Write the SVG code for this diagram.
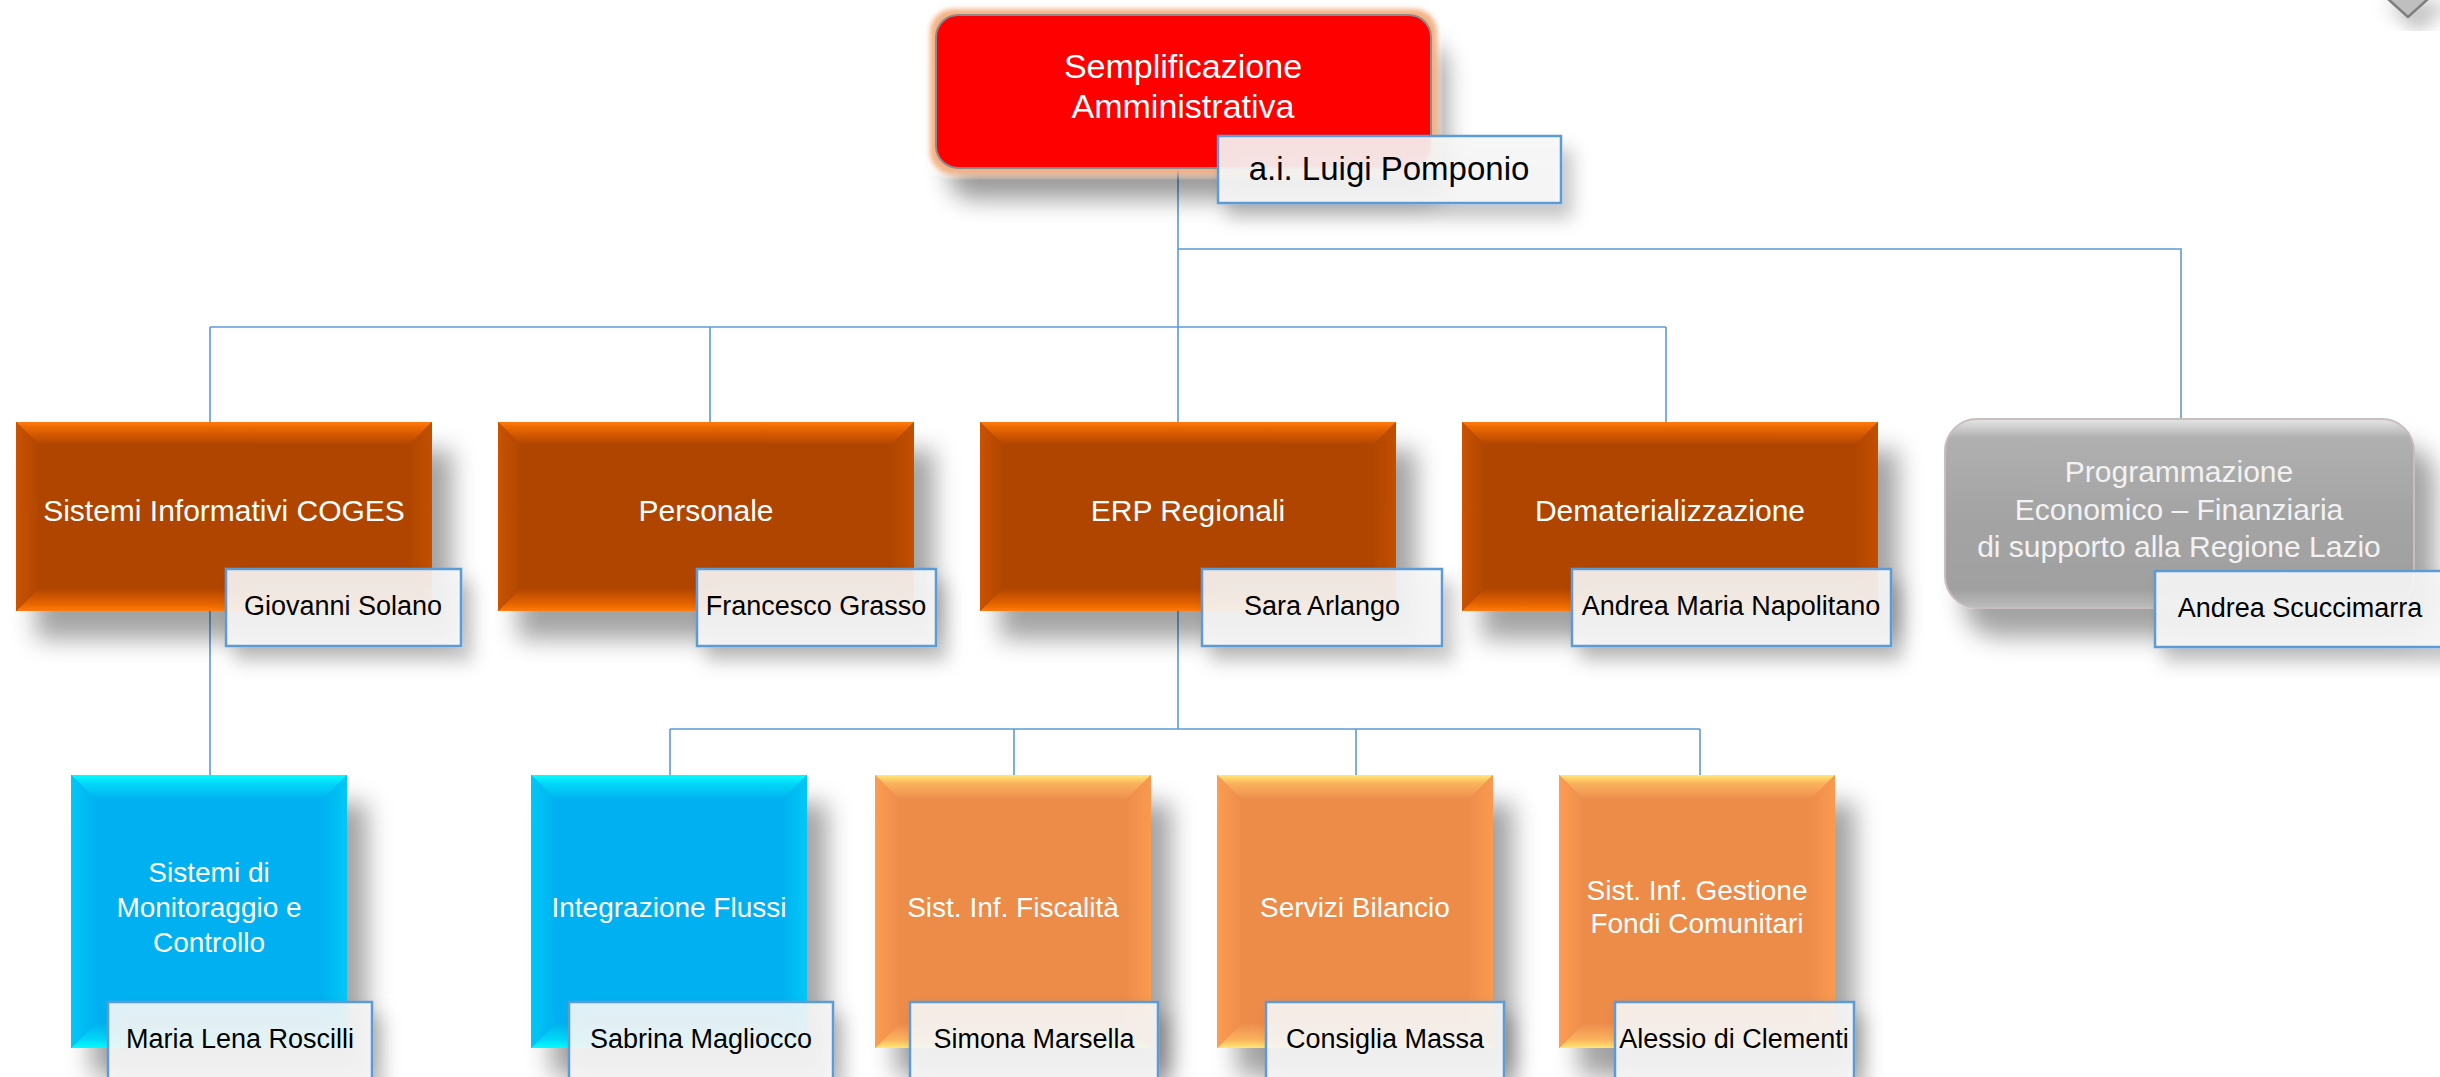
<svg xmlns="http://www.w3.org/2000/svg" width="2440" height="1077" viewBox="0 0 2440 1077">
<style>
.t{font-family:"Liberation Sans",Arial,sans-serif;fill:#FFFFFF;text-anchor:middle}
.t2{font-size:30px}
.t3{font-size:28px}
.n{font-family:"Liberation Sans",Arial,sans-serif;fill:#000000;text-anchor:middle;font-size:27px}
.nb{fill:#F7F7F7;fill-opacity:0.9;stroke:#5B9BD5;stroke-width:2.5}
.c{fill:none;stroke:#5B9BD5;stroke-width:1.6}
.dk{fill:#B04500}.cy{fill:#00B0F0}.lo{fill:#ED8B4A}
</style>
<defs>
<filter id="sh" x="-15%" y="-15%" width="145%" height="160%">
<feDropShadow dx="20" dy="28" stdDeviation="12" flood-color="#000" flood-opacity="0.36"/>
</filter>
<filter id="shs" x="-15%" y="-30%" width="140%" height="180%">
<feDropShadow dx="10" dy="14" stdDeviation="9" flood-color="#000" flood-opacity="0.25"/>
</filter>
<filter id="glow" x="-15%" y="-25%" width="140%" height="180%">
<feGaussianBlur in="SourceAlpha" stdDeviation="12" result="b"/>
<feOffset in="b" dx="14" dy="30" result="o"/>
<feComponentTransfer in="o" result="s"><feFuncA type="linear" slope="0.4"/></feComponentTransfer>
<feMorphology in="SourceAlpha" operator="dilate" radius="5" result="d"/>
<feGaussianBlur in="d" stdDeviation="2.5" result="db"/>
<feFlood flood-color="#F4B183"/>
<feComposite in2="db" operator="in" result="g"/>
<feMerge><feMergeNode in="s"/><feMergeNode in="g"/><feMergeNode in="SourceGraphic"/></feMerge>
</filter>
<linearGradient id="dkT" x1="0" y1="0" x2="0" y2="1"><stop offset="0" stop-color="#FF7A0A"/><stop offset="0.4" stop-color="#E06000"/><stop offset="1" stop-color="#B34700"/></linearGradient>
<linearGradient id="dkB" x1="0" y1="1" x2="0" y2="0"><stop offset="0" stop-color="#FF7A0A"/><stop offset="0.4" stop-color="#E06000"/><stop offset="1" stop-color="#B34700"/></linearGradient>
<linearGradient id="dkL" x1="0" y1="0" x2="1" y2="0"><stop offset="0" stop-color="#C95300"/><stop offset="1" stop-color="#B24600"/></linearGradient>
<linearGradient id="dkR" x1="1" y1="0" x2="0" y2="0"><stop offset="0" stop-color="#C25000"/><stop offset="1" stop-color="#B24600"/></linearGradient>
<linearGradient id="cyT" x1="0" y1="0" x2="0" y2="1"><stop offset="0" stop-color="#00FFFF"/><stop offset="0.35" stop-color="#00D8F8"/><stop offset="1" stop-color="#00B3F0"/></linearGradient>
<linearGradient id="cyB" x1="0" y1="1" x2="0" y2="0"><stop offset="0" stop-color="#00FFFF"/><stop offset="0.35" stop-color="#00D8F8"/><stop offset="1" stop-color="#00B3F0"/></linearGradient>
<linearGradient id="cyL" x1="0" y1="0" x2="1" y2="0"><stop offset="0" stop-color="#00C8F8"/><stop offset="1" stop-color="#00B2F0"/></linearGradient>
<linearGradient id="cyR" x1="1" y1="0" x2="0" y2="0"><stop offset="0" stop-color="#00C8F8"/><stop offset="1" stop-color="#00B2F0"/></linearGradient>
<linearGradient id="loT" x1="0" y1="0" x2="0" y2="1"><stop offset="0" stop-color="#FFE873"/><stop offset="0.35" stop-color="#FBB25E"/><stop offset="1" stop-color="#EE8E4D"/></linearGradient>
<linearGradient id="loB" x1="0" y1="1" x2="0" y2="0"><stop offset="0" stop-color="#FFE873"/><stop offset="0.35" stop-color="#FBB25E"/><stop offset="1" stop-color="#EE8E4D"/></linearGradient>
<linearGradient id="loL" x1="0" y1="0" x2="1" y2="0"><stop offset="0" stop-color="#FB9D52"/><stop offset="1" stop-color="#EE8D4C"/></linearGradient>
<linearGradient id="loR" x1="1" y1="0" x2="0" y2="0"><stop offset="0" stop-color="#F99A50"/><stop offset="1" stop-color="#EE8D4C"/></linearGradient>
<linearGradient id="gr" x1="0" y1="0" x2="0" y2="1"><stop offset="0" stop-color="#E6E6E6"/><stop offset="0.1" stop-color="#B0B0B0"/><stop offset="0.5" stop-color="#A4A4A4"/><stop offset="0.9" stop-color="#A0A0A0"/><stop offset="1" stop-color="#BDBDBD"/></linearGradient>
</defs>

<rect x="0" y="0" width="2440" height="1077" fill="#FFFFFF"/>

<g id="connectors">
<path class="c" d="M1178 167 V327"/>
<path class="c" d="M1178 249 H2181 V419"/>
<path class="c" d="M210 327 H1666"/>
<path class="c" d="M210 327 V422 M710 327 V422 M1178 327 V422 M1666 327 V422"/>
<path class="c" d="M210 611 V775"/>
<path class="c" d="M1178 611 V729 M670 729 H1700"/>
<path class="c" d="M670 729 V775 M1014 729 V775 M1356 729 V775 M1700 729 V775"/>
</g>

<g id="corner-shape">
<polygon points="2378,-10 2408,17 2438,-10" fill="#BFBFBF" stroke="#7F7F7F" stroke-width="2.5" filter="url(#shs)"/>
</g>

<g id="n-semplificazione">
<rect x="936" y="15" width="495" height="153" rx="22" fill="#FF0000" stroke="#8C8C8C" stroke-width="2" filter="url(#glow)"/>
<text class="t" x="1183" y="78" font-size="34">Semplificazione</text>
<text class="t" x="1183" y="118" font-size="34">Amministrativa</text>
<rect class="nb" x="1218" y="136" width="343" height="67" filter="url(#shs)"/>
<text class="n" x="1389" y="180" style="font-size:33px">a.i. Luigi Pomponio</text>
</g>

<g id="n-coges">
<g filter="url(#sh)">
<rect class="dk" x="16" y="422" width="416" height="189"/>
<polygon fill="url(#dkT)" points="16,422 432,422 410,444 38,444"/>
<polygon fill="url(#dkB)" points="16,611 432,611 410,589 38,589"/>
<polygon fill="url(#dkL)" points="16,422 38,444 38,589 16,611"/>
<polygon fill="url(#dkR)" points="432,422 410,444 410,589 432,611"/>
</g>
<text class="t t2" x="224" y="521">Sistemi Informativi COGES</text>
<rect class="nb" x="226" y="569" width="235" height="77" filter="url(#shs)"/>
<text class="n" x="343" y="615">Giovanni Solano</text>
</g>

<g id="n-personale">
<g filter="url(#sh)">
<rect class="dk" x="498" y="422" width="416" height="189"/>
<polygon fill="url(#dkT)" points="498,422 914,422 892,444 520,444"/>
<polygon fill="url(#dkB)" points="498,611 914,611 892,589 520,589"/>
<polygon fill="url(#dkL)" points="498,422 520,444 520,589 498,611"/>
<polygon fill="url(#dkR)" points="914,422 892,444 892,589 914,611"/>
</g>
<text class="t t2" x="706" y="521">Personale</text>
<rect class="nb" x="697" y="569" width="239" height="77" filter="url(#shs)"/>
<text class="n" x="816" y="615">Francesco Grasso</text>
</g>

<g id="n-erp">
<g filter="url(#sh)">
<rect class="dk" x="980" y="422" width="416" height="189"/>
<polygon fill="url(#dkT)" points="980,422 1396,422 1374,444 1002,444"/>
<polygon fill="url(#dkB)" points="980,611 1396,611 1374,589 1002,589"/>
<polygon fill="url(#dkL)" points="980,422 1002,444 1002,589 980,611"/>
<polygon fill="url(#dkR)" points="1396,422 1374,444 1374,589 1396,611"/>
</g>
<text class="t t2" x="1188" y="521">ERP Regionali</text>
<rect class="nb" x="1202" y="569" width="240" height="77" filter="url(#shs)"/>
<text class="n" x="1322" y="615">Sara Arlango</text>
</g>

<g id="n-dematerializzazione">
<g filter="url(#sh)">
<rect class="dk" x="1462" y="422" width="416" height="189"/>
<polygon fill="url(#dkT)" points="1462,422 1878,422 1856,444 1484,444"/>
<polygon fill="url(#dkB)" points="1462,611 1878,611 1856,589 1484,589"/>
<polygon fill="url(#dkL)" points="1462,422 1484,444 1484,589 1462,611"/>
<polygon fill="url(#dkR)" points="1878,422 1856,444 1856,589 1878,611"/>
</g>
<text class="t t2" x="1670" y="521">Dematerializzazione</text>
<rect class="nb" x="1572" y="569" width="319" height="77" filter="url(#shs)"/>
<text class="n" x="1731" y="615">Andrea Maria Napolitano</text>
</g>

<g id="n-programmazione">
<rect x="1945" y="419" width="469" height="189" rx="32" fill="url(#gr)" stroke="#C9BEBE" stroke-width="2" filter="url(#sh)"/>
<text class="t t2" x="2179" y="482" style="fill:#F2F2F2">Programmazione</text>
<text class="t t2" x="2179" y="520" style="fill:#F2F2F2">Economico – Finanziaria</text>
<text class="t t2" x="2179" y="557" style="fill:#F2F2F2">di supporto alla Regione Lazio</text>
<rect class="nb" x="2155" y="571" width="292" height="76" filter="url(#shs)"/>
<text class="n" x="2300" y="617">Andrea Scuccimarra</text>
</g>

<g id="n-monitoraggio">
<g filter="url(#sh)">
<rect class="cy" x="71" y="775" width="276" height="273"/>
<polygon fill="url(#cyT)" points="71,775 347,775 323,799 95,799"/>
<polygon fill="url(#cyB)" points="71,1048 347,1048 323,1024 95,1024"/>
<polygon fill="url(#cyL)" points="71,775 95,799 95,1024 71,1048"/>
<polygon fill="url(#cyR)" points="347,775 323,799 323,1024 347,1048"/>
</g>
<text class="t t3" x="209" y="882">Sistemi di</text>
<text class="t t3" x="209" y="917">Monitoraggio e</text>
<text class="t t3" x="209" y="952">Controllo</text>
<rect class="nb" x="108" y="1002" width="264" height="80" filter="url(#shs)"/>
<text class="n" x="240" y="1048">Maria Lena Roscilli</text>
</g>

<g id="n-integrazione">
<g filter="url(#sh)">
<rect class="cy" x="531" y="775" width="276" height="273"/>
<polygon fill="url(#cyT)" points="531,775 807,775 783,799 555,799"/>
<polygon fill="url(#cyB)" points="531,1048 807,1048 783,1024 555,1024"/>
<polygon fill="url(#cyL)" points="531,775 555,799 555,1024 531,1048"/>
<polygon fill="url(#cyR)" points="807,775 783,799 783,1024 807,1048"/>
</g>
<text class="t t3" x="669" y="917">Integrazione Flussi</text>
<rect class="nb" x="569" y="1002" width="264" height="80" filter="url(#shs)"/>
<text class="n" x="701" y="1048">Sabrina Magliocco</text>
</g>

<g id="n-fiscalita">
<g filter="url(#sh)">
<rect class="lo" x="875" y="775" width="276" height="273"/>
<polygon fill="url(#loT)" points="875,775 1151,775 1127,799 899,799"/>
<polygon fill="url(#loB)" points="875,1048 1151,1048 1127,1024 899,1024"/>
<polygon fill="url(#loL)" points="875,775 899,799 899,1024 875,1048"/>
<polygon fill="url(#loR)" points="1151,775 1127,799 1127,1024 1151,1048"/>
</g>
<text class="t t3" x="1013" y="917">Sist. Inf. Fiscalità</text>
<rect class="nb" x="910" y="1002" width="248" height="80" filter="url(#shs)"/>
<text class="n" x="1034" y="1048">Simona Marsella</text>
</g>

<g id="n-bilancio">
<g filter="url(#sh)">
<rect class="lo" x="1217" y="775" width="276" height="273"/>
<polygon fill="url(#loT)" points="1217,775 1493,775 1469,799 1241,799"/>
<polygon fill="url(#loB)" points="1217,1048 1493,1048 1469,1024 1241,1024"/>
<polygon fill="url(#loL)" points="1217,775 1241,799 1241,1024 1217,1048"/>
<polygon fill="url(#loR)" points="1493,775 1469,799 1469,1024 1493,1048"/>
</g>
<text class="t t3" x="1355" y="917">Servizi Bilancio</text>
<rect class="nb" x="1266" y="1002" width="238" height="80" filter="url(#shs)"/>
<text class="n" x="1385" y="1048">Consiglia Massa</text>
</g>

<g id="n-fondi">
<g filter="url(#sh)">
<rect class="lo" x="1559" y="775" width="276" height="273"/>
<polygon fill="url(#loT)" points="1559,775 1835,775 1811,799 1583,799"/>
<polygon fill="url(#loB)" points="1559,1048 1835,1048 1811,1024 1583,1024"/>
<polygon fill="url(#loL)" points="1559,775 1583,799 1583,1024 1559,1048"/>
<polygon fill="url(#loR)" points="1835,775 1811,799 1811,1024 1835,1048"/>
</g>
<text class="t t3" x="1697" y="900">Sist. Inf. Gestione</text>
<text class="t t3" x="1697" y="933">Fondi Comunitari</text>
<rect class="nb" x="1615" y="1002" width="239" height="80" filter="url(#shs)"/>
<text class="n" x="1734" y="1048">Alessio di Clementi</text>
</g>
</svg>
